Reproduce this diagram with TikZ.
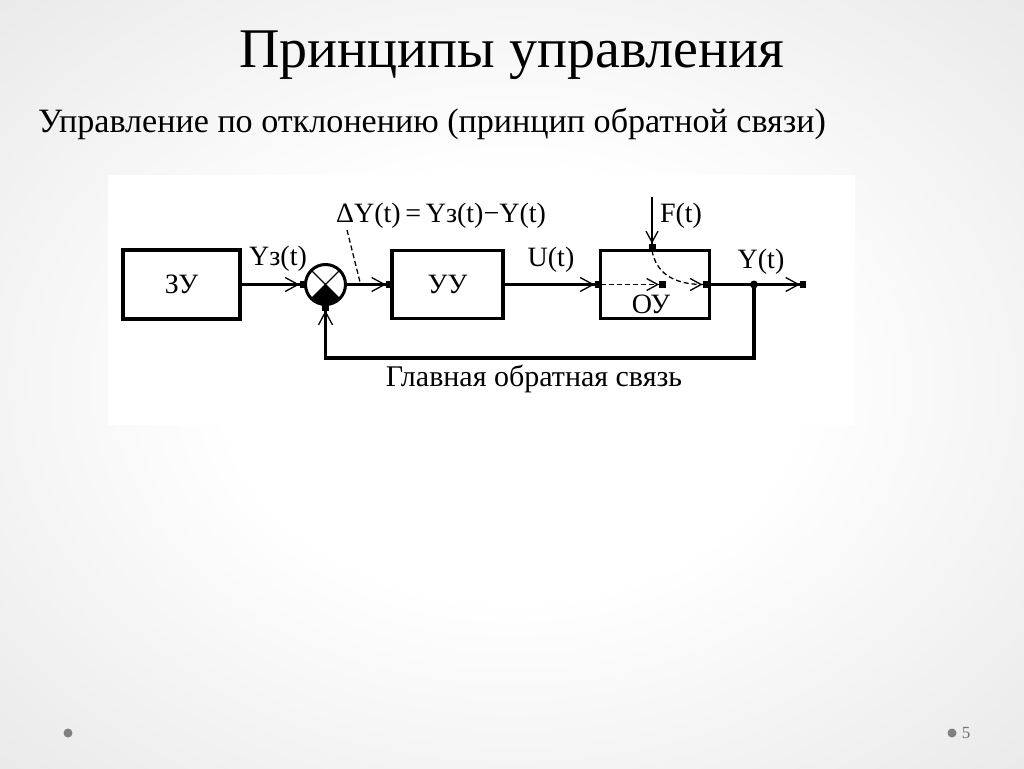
\documentclass[tikz,border=0pt]{standalone}
\usepackage{fontspec}
\setmainfont{Liberation Serif}
\newfontfamily\dfont{Liberation Serif}
\usetikzlibrary{arrows.meta}
\pgfdeclareradialshading{bgshade}{\pgfpoint{0bp}{0bp}}{color(0bp)=(white); color(14bp)=(white); color(50bp)=(black!14); color(72bp)=(black!22)}
\begin{document}
\begin{tikzpicture}[x=1pt,y=-1pt,
  every node/.style={inner sep=0pt,outer sep=0pt},
  blk/.style={draw,line width=3.4pt,font=\dfont\fontsize{28}{30}\selectfont},
  lbl/.style={font=\dfont\fontsize{28}{30}\selectfont},
  conn/.style={line width=3.2pt},
  tip/.style={-{Straight Barb[length=13pt,width=14pt,line width=1.3pt]Rectangle[length=6pt,width=7pt]}},
  smalltip/.style={-{Straight Barb[length=11pt,width=12pt,line width=1.3pt]Rectangle[length=7pt,width=7pt]}},
  lead/.style={line width=1.3pt,dash pattern=on 5pt off 3pt},
  dot/.style={circle,fill=black,minimum size=8pt}
]
% background
\shade[shading=bgshade] (0,0) rectangle (1024,768);
\useasboundingbox (0,0) rectangle (1024,768);
% titles
\node[anchor=base,font=\fontsize{56}{60}\selectfont] (title) at (512,67) {Принципы управления};
\node[anchor=base west,font=\fontsize{34.1}{36}\selectfont] (subtitle) at (38,132) {Управление по отклонению (принцип обратной связи)};
% diagram canvas
\fill[white] (108,175) rectangle (855,425);
% blocks
\node[blk,minimum width=117pt,minimum height=69pt] (zu) at (181.5,284.5) {ЗУ};
\node[draw,circle,line width=3pt,minimum size=40pt] (sum) at (325.5,284.5) {};
\node[blk,minimum width=111pt,minimum height=68pt] (uu) at (447.5,284.5) {УУ};
\node[draw,line width=3.4pt,minimum width=109pt,minimum height=68pt] (ou) at (655,284.5) {};
\node[lbl] (oulbl) at (651,304) {ОУ};
% summing junction interior
\draw[line width=1.2pt] (sum.center) -- ++(-45:19) (sum.center) -- ++(-135:19)
  (sum.center) -- ++(45:19) (sum.center) -- ++(135:19);
\fill (sum.center) -- ++(45:19) arc[start angle=45,end angle=135,radius=19] -- cycle;
% coordinates
\coordinate (br) at (754,284.5);
\coordinate (out) at (806,284.5);
\coordinate (fb1) at (754,358);
\coordinate (fb2) at (325.5,358);
\coordinate (fin) at (652,197);
\coordinate (ftop) at (652,250.5);
\coordinate (mid) at (666,284.5);
\coordinate (leadA) at (347,230);
\coordinate (leadB) at (360,282);
% connectors
\draw[conn,tip] (zu.east) -- (sum.west);
\draw[conn,tip] (sum.east) -- (uu.west);
\draw[conn,tip] (uu.east) -- (ou.west);
\draw[conn] (ou.east) -- (br);
\draw[conn,tip] (br) -- (out);
\draw[conn,tip] (br) -- (fb1) -- (fb2) -- (sum.south);
\node[dot] (brdot) at (br) {};
\draw[line width=1.8pt,smalltip] (fin) -- (ftop);
% inside plant
\draw[lead,smalltip] (ou.west) -- (mid);
\draw[lead,smalltip] (ftop) .. controls (656,272) and (672,284.5) .. (ou.east);
% leader for delta label
\draw[lead] (leadA) -- (leadB);
% labels
\node[lbl] (lyz) at (278,259) {Yз(t)};
\node[lbl] (ldelta) at (441,216) {ΔY(t)\,=\,Yз(t)−Y(t)};
\node[lbl] (lu) at (551,260) {U(t)};
\node[lbl] (lf) at (681,216) {F(t)};
\node[lbl] (ly) at (761,262) {Y(t)};
\node[lbl,font=\dfont\fontsize{30}{32}\selectfont] (lfb) at (534,379) {Главная обратная связь};
% footer
\fill[black!50] (68,733) circle[radius=4.5];
\fill[black!50] (952,733) circle[radius=4.5];
\node[text=black!55,font=\fontsize{17}{18}\selectfont] (pg) at (966,733) {5};
\end{tikzpicture}
\end{document}
